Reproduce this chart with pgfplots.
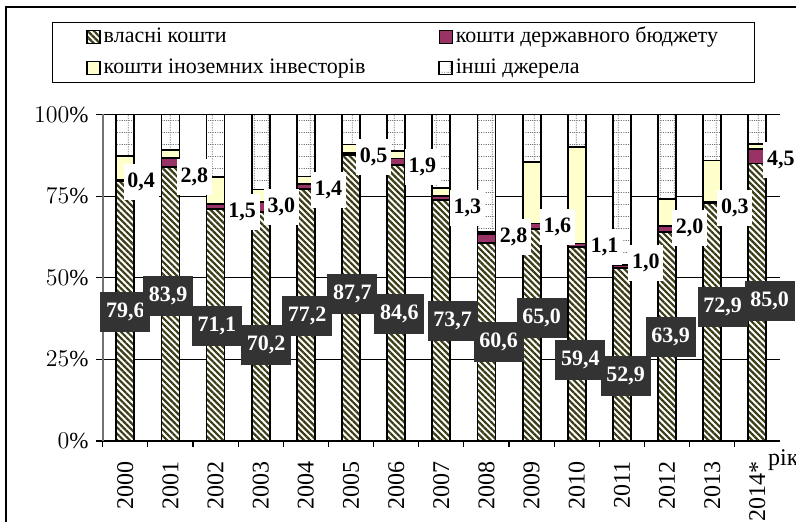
\documentclass[border=0pt]{standalone}
\usepackage{fontspec}
\setmainfont{Liberation Serif}
\usepackage{pgfplots}
\usepackage{pgfplotstable}
\pgfplotsset{compat=1.18}
\usetikzlibrary{patterns.meta}

\definecolor{own}{RGB}{60,60,22}
\definecolor{state}{HTML}{993366}
\definecolor{foreign}{HTML}{FFFFCC}
\definecolor{lbl}{RGB}{51,51,51}

\tikzdeclarepattern{
  name=dotgrid, type=uncolored,
  bounding box={(0pt,0pt) and (7pt,6pt)},
  tile size={(7pt,6pt)},
  code={
    \draw[line width=0.35pt, dash pattern=on 0.6pt off 0.7pt] (0pt,3pt) -- (7pt,3pt);
    \draw[line width=0.35pt, dash pattern=on 0.6pt off 0.7pt] (1.2pt,0pt) -- (1.2pt,6pt);
  }
}

\pgfplotstableread{
x own state foreign other
0 79.6 0.4 7.2 12.8
1 83.9 2.8 2.5 10.8
2 71.1 1.5 8.2 19.2
3 70.2 3.0 3.8 23.0
4 77.2 1.4 2.4 19.0
5 87.7 0.5 2.6 9.2
6 84.6 1.9 2.3 11.2
7 73.7 1.3 2.6 22.4
8 60.6 2.8 0.6 36.0
9 65.0 1.6 18.8 14.6
10 59.4 1.1 29.5 10.0
11 52.9 1.0 0.1 46.0
12 63.9 2.0 8.2 25.9
13 72.9 0.3 12.7 14.1
14 85.0 4.5 1.5 9.0
}\shares

\pgfplotstableread{
x y label
0.00 39.5 79,6
0.95 44.4 83,9
2.03 35.2 71,1
3.12 29.4 70,2
4.03 38.3 77,2
5.03 45.0 87,7
6.07 38.9 84,6
7.25 36.8 73,7
8.27 30.3 60,6
9.22 37.7 65,0
10.08 24.8 59,4
11.08 19.9 52,9
12.08 31.9 63,9
13.23 41.0 72,9
14.27 42.9 85,0
}\ownlabels

\pgfplotstableread{
x y label
0.35 79.3 0,4
1.53 80.9 2,8
2.59 70.1 1,5
3.46 71.7 3,0
4.50 76.9 1,4
5.50 87.0 0,5
6.58 83.9 1,9
7.58 71.4 1,3
8.60 62.5 2,8
9.57 65.5 1,6
10.62 59.4 1,1
11.53 54.5 1,0
12.50 65.2 2,0
13.50 71.4 0,3
14.52 86.1 4,5
}\statelabels

\pgfplotsset{
  mylegend/.style={legend image code/.code={\draw[##1, line width=0.6pt] (0pt,-3.25pt) rectangle (6.5pt,3.25pt);}},
  common/.style={
    width=338.6pt, height=163.25pt, scale only axis,
    at={(51.35pt,40.5pt)}, anchor=south west,
    xmin=-0.5, xmax=14.5, ymin=0, ymax=100,
  }
}

\begin{document}
\begin{tikzpicture}
\useasboundingbox (0,0) rectangle (398pt,261pt);
\draw[line width=0.6pt] (3pt,-10pt) -- (3pt,257.5pt) -- (410pt,257.5pt);
\begin{axis}[common,
  ybar stacked, bar width=9pt,
  axis x line*=bottom, axis y line*=left,
  x axis line style={black, line width=0.8pt},
  y axis line style={black!55, line width=0.8pt},
  ymajorgrids, grid style={black, line width=0.5pt},
  ytick={0,25,50,75,100},
  yticklabel={$\pgfmathprintnumber{\tick}\%$},
  yticklabel style={font=\fontsize{11.5}{13}\selectfont},
  ytick style={black, line width=0.6pt},
  tick align=outside, major tick length=3.5pt,
  xtick={0,...,14},
  xticklabels={2000,2001,2002,2003,2004,2005,2006,2007,2008,2009,2010,2011,2012,2013,2014*},
  xtick style={draw=none},
  extra x ticks={-0.5,0.5,...,13.5},
  extra x tick labels={},
  extra x tick style={xtick style={draw=black, line width=0.6pt}, major tick length=3pt},
  xticklabel style={rotate=90, anchor=east, font=\fontsize{12}{13}\selectfont},
  xticklabel shift=3pt,
  xlabel={рік},
  xlabel style={at={(rel axis cs:0.982,0)}, anchor=north west, inner sep=0pt, yshift=-4pt, font=\fontsize{12}{13}\selectfont},
  legend columns=2,
  legend style={at={(-0.0749,1.2833)}, anchor=north west, draw=black, line width=0.5pt,
    inner xsep=17pt, inner ysep=2pt, row sep=5pt,
    font=\fontsize{11}{12}\selectfont,
    nodes={inner xsep=1.5pt, inner ysep=0pt, text height=8pt, text depth=2.5pt}},
  legend cell align=left,
]
\addplot[mylegend, preaction={fill=white}, pattern={Lines[angle=-45,distance=2.2pt,line width=1.1pt]}, pattern color=own, draw=black, line width=0.9pt]
  table[x=x, y=own] {\shares};
\addlegendentry{\makebox[166pt][l]{власні кошти}}
\addplot[mylegend, fill=state, draw=black, line width=0.9pt]
  table[x=x, y=state] {\shares};
\addlegendentry{\makebox[131pt][l]{кошти державного бюджету}}
\addplot[mylegend, fill=foreign, draw=black, line width=0.9pt]
  table[x=x, y=foreign] {\shares};
\addlegendentry{\makebox[166pt][l]{кошти іноземних інвесторів}}
\addplot[mylegend, preaction={fill=white}, pattern=dotgrid, pattern color=black!55, draw=black, line width=0.9pt]
  table[x=x, y=other] {\shares};
\addlegendentry{\makebox[131pt][l]{інші джерела}}
\end{axis}
\begin{axis}[common, hide axis, clip=false]
\addplot[draw=none, mark=none, nodes near coords={\pgfplotspointmeta},
  point meta=explicit symbolic,
  every node near coord/.append style={anchor=center, fill=lbl, text=white,
    font=\fontsize{11}{12}\selectfont\bfseries, minimum width=25pt, minimum height=20pt, inner sep=1pt}]
  table[x=x, y=y, meta=label] {\ownlabels};
\addplot[draw=none, mark=none, nodes near coords={\pgfplotspointmeta},
  point meta=explicit symbolic,
  every node near coord/.append style={anchor=center, fill=white, text=black,
    font=\fontsize{11}{12}\selectfont\bfseries, minimum width=17.5pt, minimum height=18pt, inner sep=1pt}]
  table[x=x, y=y, meta=label] {\statelabels};
\end{axis}
\end{tikzpicture}
\end{document}
